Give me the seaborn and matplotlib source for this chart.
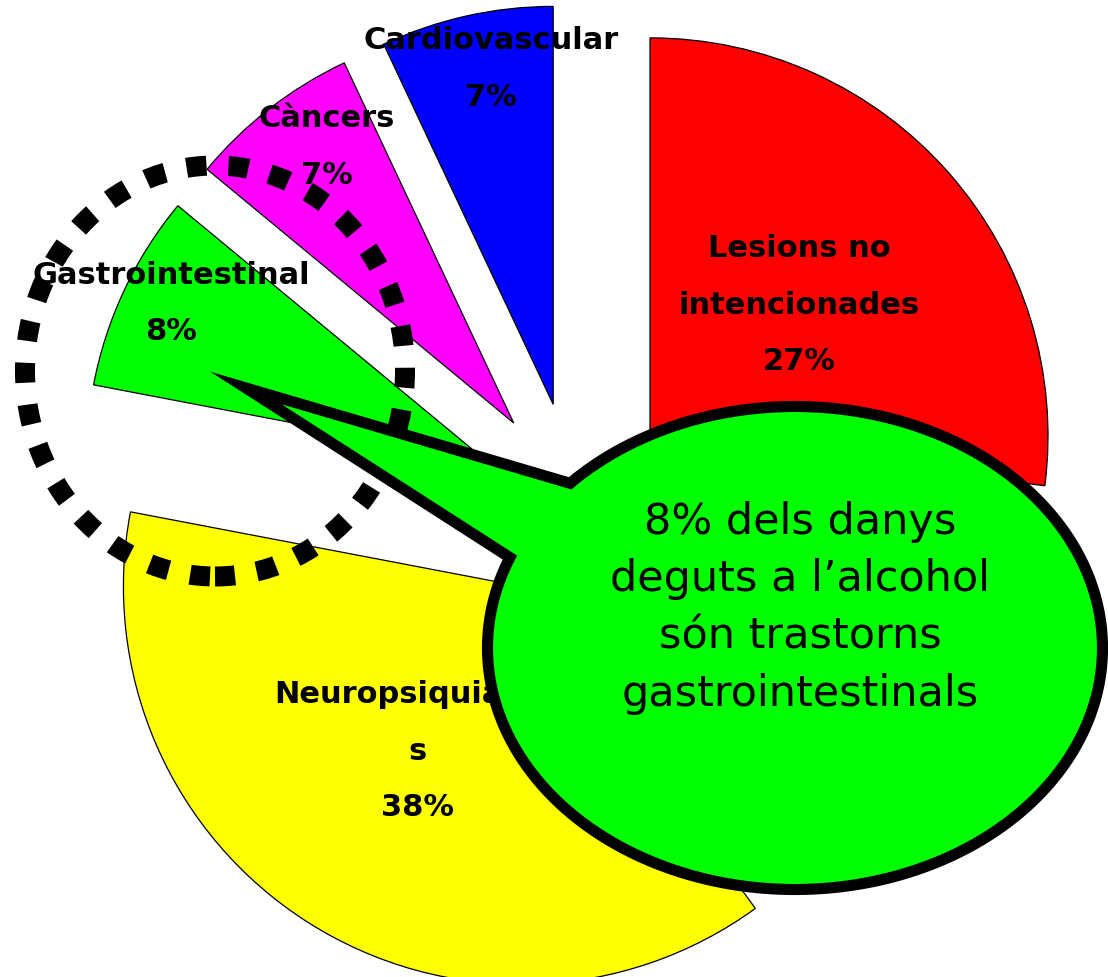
#!/usr/bin/env python3
import numpy as np
import seaborn as sns
import matplotlib
matplotlib.use("Agg")
import matplotlib.pyplot as plt
from matplotlib.patches import Ellipse, PathPatch
from matplotlib.path import Path


# share of alcohol-attributable harm by group (the 13% rest is left blank)
CATEGORIES = [
    "Lesions no intencionades",
    "Altres",
    "Neuropsiquiàtrics",
    "Gastrointestinal",
    "Càncers",
    "Cardiovascular",
]
VALUES = [27, 13, 38, 8, 7, 7]
COLORS = ["#ff0000", "none", "#ffff00", "#00ff00", "#ff00ff", "#0000ff"]
SHOWN = [True, False, True, True, True, True]
# how the names wrap inside the slices
LABEL_TEXT = [
    "Lesions no\nintencionades",
    "",
    "Neuropsiquiàtric\ns",
    "Gastrointestinal",
    "Càncers",
    "Cardiovascular",
]
CALLOUT = "8% dels danys\ndeguts a l’alcohol\nsón trastorns\ngastrointestinals"

# label placement: fraction of radius and angle tweak (deg) from the mid angle
LABEL_R = [0.50, 0, 0.485, 0.88, 0.84, 0.86]
LABEL_DT = [0, 0, 0, -1.4, -3.8, -2.1]

W, H = 1108, 978


def main() -> None:
    sns.set_theme(style="white")
    plt.rcParams["font.family"] = ["DejaVu Sans"]
    plt.rcParams["text.color"] = "black"

    fig = plt.figure(figsize=(W / 100, H / 100), dpi=100)
    ax = fig.add_axes([0, 0, 1, 1])

    radius = 398
    # pie's explode is an absolute offset in data units
    wedges, _ = ax.pie(
        VALUES,
        colors=COLORS,
        startangle=90,
        counterclock=False,
        explode=[100] * len(VALUES),
        radius=radius,
        center=(575, H - 503),
        wedgeprops=dict(edgecolor="black", linewidth=0.9),
    )
    for w, shown in zip(wedges, SHOWN):
        if not shown:
            w.set_visible(False)

    ax.set_xlim(0, W)
    ax.set_ylim(0, H)
    ax.set_aspect("auto")
    ax.axis("off")

    # labels inside the slices
    for w, name, val, lr, dt, shown in zip(wedges, LABEL_TEXT, VALUES, LABEL_R, LABEL_DT, SHOWN):
        if not shown:
            continue
        mid = np.deg2rad((w.theta1 + w.theta2) / 2 + dt)
        cx, cy = w.center
        x = cx + w.r * lr * np.cos(mid)
        y = cy + w.r * lr * np.sin(mid)
        ax.text(x, y, f"{name}\n{val}%", ha="center", va="center", color="black",
                fontsize=22, fontweight="bold", linespacing=2.2, zorder=5)

    # dotted ring around the gastrointestinal slice
    ring = Ellipse((215, H - 372), 380, 411, fill=False, edgecolor="black",
                   linewidth=14.4, linestyle=(0, (1, 1.1)), zorder=4)
    ring.set_capstyle("butt")
    ax.add_patch(ring)

    # speech bubble: ellipse + tail as one outline
    # (tip set inward so the mitred outline ends at the pointed spot)
    ex, ey, a, b = 795, H - 649, 307.5, 241.5
    tip = (246, H - 389)
    t = np.deg2rad(np.linspace(158, 137 + 360, 300))
    pts = [tip] + list(zip(ex + a * np.cos(t), ey + b * np.sin(t))) + [tip]
    codes = [Path.MOVETO] + [Path.LINETO] * (len(pts) - 2) + [Path.CLOSEPOLY]
    bubble = PathPatch(Path(pts, codes), facecolor="#00ff00", edgecolor="black",
                       linewidth=8, joinstyle="miter", zorder=6)
    ax.add_patch(bubble)
    ax.text(800, H - 608, CALLOUT, ha="center", va="center", fontsize=31,
            color="black", linespacing=1.46, zorder=7)

    fig.savefig("out.png", dpi=100)
    plt.close(fig)


if __name__ == "__main__":
    main()
